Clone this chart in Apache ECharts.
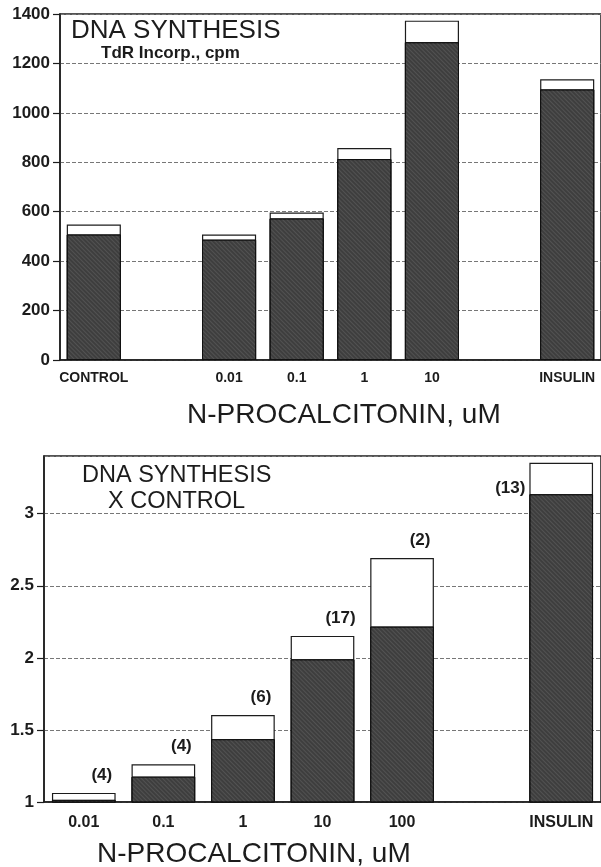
<!DOCTYPE html>
<html>
<head>
<meta charset="utf-8">
<title>N-procalcitonin DNA synthesis</title>
<script src="https://cdn.jsdelivr.net/npm/echarts@6/dist/echarts.min.js"></script>
<style>
html, body { margin: 0; padding: 0; background: #fff; }
#chart { width: 601px; height: 867px; }
</style>
</head>
<body>
<div id="chart"></div>
<script>
// upper panel: TdR incorporation, cpm
var topCats = ['CONTROL', '', '0.01', '0.1', '1', '10', '', 'INSULIN'];
var topMean = [508, null, 487, 573, 813, 1286, null, 1095];
var topUpper = [548, null, 508, 597, 858, 1373, null, 1136];   // mean + SE

// lower panel: fold over control
var botCats = ['0.01', '0.1', '1', '10', '100', '', 'INSULIN'];
var botMean = [1.015, 1.176, 1.436, 1.99, 2.217, null, 3.135];
var botUpper = [1.063, 1.262, 1.603, 2.152, 2.693, null, 3.353];
var botN = ['(4)', '(4)', '(6)', '(17)', '(2)', '', '(13)'];

var FONT = '"Liberation Sans", Arial, sans-serif';
var INK = '#1c1c1c';
var DARK = '#3e3e3e';

var chart = echarts.init(document.getElementById('chart'));

// fine diagonal hatching like the printed bars
var hatch = {
  symbol: 'rect',
  symbolSize: 1,
  dashArrayX: [[1, 0]],
  dashArrayY: [1, 2],
  rotation: Math.PI / 4,
  color: 'rgba(255,255,255,0.10)'
};

function yAxisFor(gridIndex, min, max, interval, hideMax) {
  return {
    type: 'value',
    gridIndex: gridIndex,
    min: min,
    max: max,
    interval: interval,
    axisLine: { show: true, lineStyle: { color: INK, width: 1.5 } },
    axisTick: { show: true, length: 7, lineStyle: { color: INK, width: 1.2 } },
    axisLabel: {
      margin: 10,
      color: INK,
      fontFamily: FONT,
      fontWeight: 'bold',
      fontSize: 17,
      showMaxLabel: !hideMax,
      formatter: function (v) { return String(v); }
    },
    splitLine: { lineStyle: { color: '#777', type: [4, 2], width: 1 } }
  };
}

function xAxisFor(gridIndex, cats, fontSize, margin) {
  return {
    type: 'category',
    gridIndex: gridIndex,
    data: cats,
    axisLine: { lineStyle: { color: INK, width: 1.5 } },
    axisTick: { alignWithLabel: true, interval: 0, length: 7, lineStyle: { color: INK, width: 1.2 } },
    axisLabel: {
      interval: 0,
      margin: margin,
      color: INK,
      fontFamily: FONT,
      fontWeight: 'bold',
      fontSize: fontSize
    }
  };
}

// white box = mean + SE, dark box = mean, drawn on top of each other
var option = {
  backgroundColor: '#fff',
  animation: false,
  title: [
    { text: 'DNA SYNTHESIS', left: 66, top: 13,
      textStyle: { fontFamily: FONT, fontWeight: 'normal', fontSize: 26, color: INK } },
    { text: 'TdR Incorp., cpm', left: 96, top: 40,
      textStyle: { fontFamily: FONT, fontWeight: 'bold', fontSize: 17, color: INK } },
    { text: 'N-PROCALCITONIN, uM', left: 182, top: 396,
      textStyle: { fontFamily: FONT, fontWeight: 'normal', fontSize: 28, color: INK } },
    { text: 'DNA SYNTHESIS', left: 77, top: 459,
      textStyle: { fontFamily: FONT, fontWeight: 'normal', fontSize: 23.5, color: INK } },
    { text: 'X CONTROL', left: 103, top: 485,
      textStyle: { fontFamily: FONT, fontWeight: 'normal', fontSize: 23.5, color: INK } },
    { text: 'N-PROCALCITONIN, uM', left: 92, top: 835,
      textStyle: { fontFamily: FONT, fontWeight: 'normal', fontSize: 28, color: INK } }
  ],
  grid: [
    { left: 60, top: 14, width: 545, height: 346, show: true, borderColor: INK, borderWidth: 1.5 },
    { left: 44, top: 456, width: 560, height: 346, show: true, borderColor: INK, borderWidth: 1.5 }
  ],
  xAxis: [
    xAxisFor(0, topCats, 14, 11),
    xAxisFor(1, botCats, 16, 13)
  ],
  yAxis: [
    yAxisFor(0, 0, 1400, 200, false),
    yAxisFor(1, 1, 3.4, 0.5, true)
  ],
  series: [
    {
      type: 'bar', xAxisIndex: 0, yAxisIndex: 0,
      data: topUpper, barWidth: '80%', barGap: '-100%',
      itemStyle: { color: '#fff', borderColor: INK, borderWidth: 1.2 }
    },
    {
      type: 'bar', xAxisIndex: 0, yAxisIndex: 0,
      data: topMean, barWidth: '80%', barGap: '-100%',
      itemStyle: { color: DARK, borderColor: '#111', borderWidth: 1, decal: hatch }
    },
    {
      type: 'bar', xAxisIndex: 1, yAxisIndex: 1,
      data: botUpper.map(function (v, i) {
        var item = { value: v };
        if (botCats[i] === 'INSULIN') {
          item.label = { position: [-4, 26], align: 'right', verticalAlign: 'middle', offset: [0, 0] };
        }
        return item;
      }),
      barWidth: '80%', barGap: '-100%',
      itemStyle: { color: '#fff', borderColor: INK, borderWidth: 1.2 },
      label: {
        show: true,
        position: 'top',
        offset: [18, -4],
        formatter: function (p) { return botN[p.dataIndex]; },
        color: INK,
        fontFamily: FONT,
        fontWeight: 'bold',
        fontSize: 17
      }
    },
    {
      type: 'bar', xAxisIndex: 1, yAxisIndex: 1,
      data: botMean, barWidth: '80%', barGap: '-100%',
      itemStyle: { color: DARK, borderColor: '#111', borderWidth: 1, decal: hatch }
    }
  ]
};

chart.setOption(option);
window.addEventListener('resize', function () { chart.resize(); });
</script>
</body>
</html>
